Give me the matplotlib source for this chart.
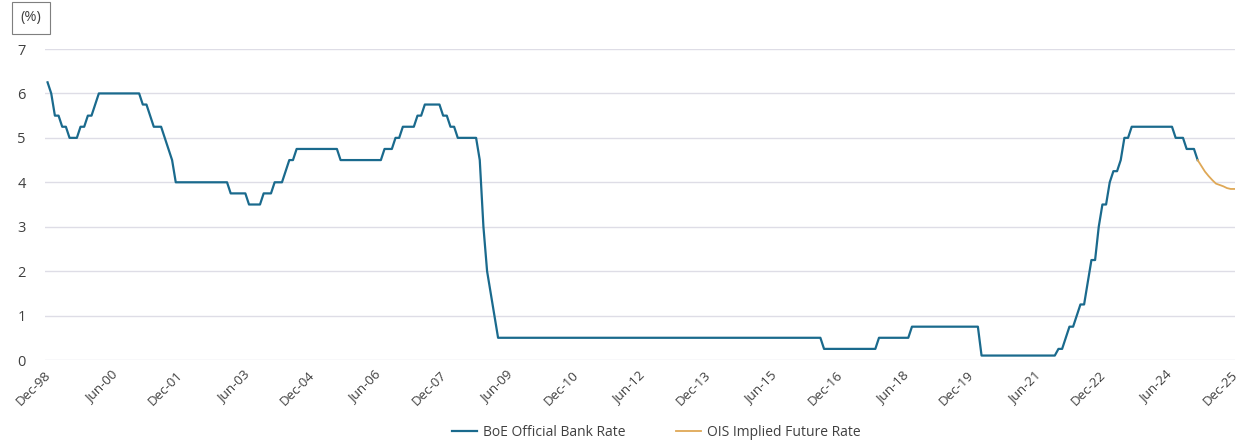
import matplotlib
matplotlib.use("Agg")
import matplotlib.pyplot as plt
import matplotlib.transforms as mtransforms
import numpy as np
import pandas as pd

# BoE Official Bank Rate: month of change (year, month) and new rate (%)
change_years  = [1998,1999,1999,1999,1999,1999,1999,2000,2000,2001,2001,2001,2001,2001,2001,2001,
                 2003,2003,2003,2004,2004,2004,2004,2005,2006,2006,2007,2007,2007,2007,2008,2008,
                 2008,2008,2008,2009,2009,2009,2016,2017,2018,2020,2021,2022,2022,2022,2022,2022,
                 2022,2022,2022,2023,2023,2023,2023,2023,2024,2024,2025]
change_months = [12,1,2,4,6,9,11,1,2,2,4,5,8,9,10,11,
                 2,7,11,2,5,6,8,8,8,11,1,5,7,12,2,4,
                 10,11,12,1,2,3,8,11,8,3,12,2,3,5,6,8,
                 9,11,12,2,3,5,6,8,8,11,2]
change_rates  = [6.25,6.0,5.5,5.25,5.0,5.25,5.5,5.75,6.0,5.75,5.5,5.25,5.0,4.75,4.5,4.0,
                 3.75,3.5,3.75,4.0,4.25,4.5,4.75,4.5,4.75,5.0,5.25,5.5,5.75,5.5,5.25,5.0,
                 4.5,3.0,2.0,1.5,1.0,0.5,0.25,0.5,0.75,0.1,0.25,0.5,0.75,1.0,1.25,1.75,
                 2.25,3.0,3.5,4.0,4.25,4.5,5.0,5.25,5.0,4.75,4.5]

# OIS implied future rate, monthly Feb-25 .. Dec-25
ois_values = [4.50, 4.37, 4.24, 4.14, 4.05, 3.97, 3.94, 3.91, 3.87, 3.85, 3.85]

tick_labels = ["Dec-98","Jun-00","Dec-01","Jun-03","Dec-04","Jun-06","Dec-07","Jun-09",
               "Dec-10","Jun-12","Dec-13","Jun-15","Dec-16","Jun-18","Dec-19","Jun-21",
               "Dec-22","Jun-24","Dec-25"]

# Build monthly series (month-end value)
months = pd.period_range("1998-12", "2025-02", freq="M")
chg = pd.Series(change_rates,
                index=pd.PeriodIndex([pd.Period(year=y, month=m, freq="M")
                                      for y, m in zip(change_years, change_months)]))
boe = chg.reindex(months).ffill()
start = pd.Period("1998-12", freq="M")
boe_x = np.array([(p - start).n for p in months])
ois_months = pd.period_range("2025-02", "2025-12", freq="M")
ois_x = np.array([(p - start).n for p in ois_months])

BLUE = "#1a6a8d"
GOLD = "#dfa856"
GRID = "#dedde6"
TXT = "#404040"

plt.rcParams['font.family'] = ['Open Sans', 'DejaVu Sans']
fig = plt.figure(figsize=(12.43, 4.42), dpi=100)
ax = fig.add_axes([45/1243, 1-360/442, (1235-45)/1243, (360-49)/442])

ax.plot(boe_x, boe.values, color=BLUE, lw=1.6, label="BoE Official Bank Rate", zorder=3)
ax.plot(ois_x, ois_values, color=GOLD, lw=1.3, label="OIS Implied Future Rate", zorder=3)

ax.set_xlim(-0.7, 324.2)
ax.set_ylim(0, 7)
ax.set_yticks(range(0, 8))
ax.yaxis.grid(True, color=GRID, lw=1)
ax.set_axisbelow(True)
for s in ax.spines.values():
    s.set_visible(False)
ax.tick_params(axis='y', length=0, pad=14, labelsize=10.5, labelcolor=TXT)
ax.set_xticks(np.arange(0, 325, 18))
ax.set_xticklabels(tick_labels, rotation=45, ha='right', va='top', rotation_mode='anchor',
                   fontsize=9.6, color=TXT)
ax.tick_params(axis='x', length=0, pad=6)
offset = mtransforms.ScaledTranslation(-3/100, 0, fig.dpi_scale_trans)
for lbl in ax.get_xticklabels():
    lbl.set_transform(lbl.get_transform() + offset)

fig.text(31/1243, 1-18/442, "(%)", ha='center', va='center', fontsize=10.5, color=TXT,
         bbox=dict(boxstyle='square,pad=0.6', fc='white', ec='#7f7f7f', lw=0.8))

fig.legend(loc='center', bbox_to_anchor=(0.528, 1-432/442), ncol=2, frameon=False,
           fontsize=10, handlelength=1.8, columnspacing=3.7, handletextpad=0.4,
           labelcolor=TXT)

fig.savefig("out.png", dpi=100, facecolor='white')
